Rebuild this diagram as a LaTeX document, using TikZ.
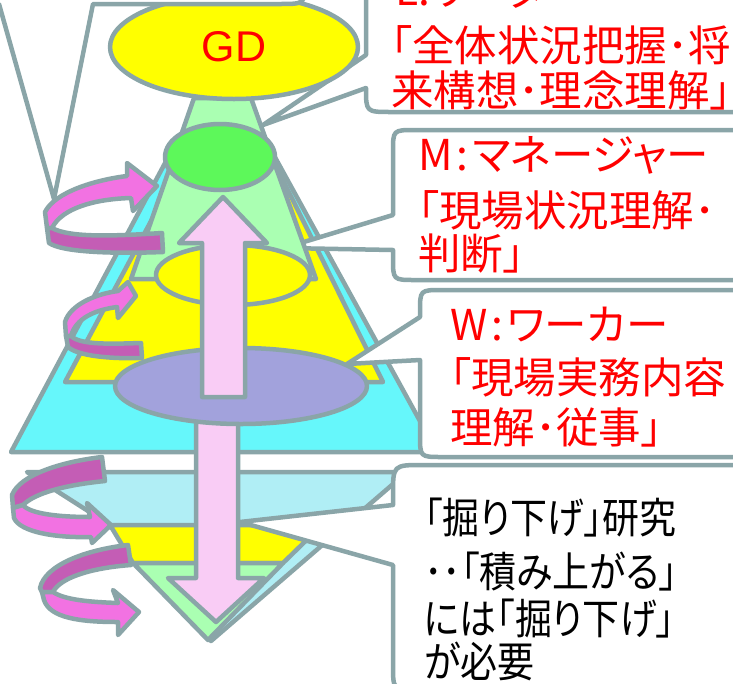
\documentclass[tikz,border=0pt]{standalone}
\usepackage{fontspec}
\newfontfamily\jp[RawFeature=+palt]{Noto Sans CJK JP}
\newfontfamily\jpb[RawFeature=+palt, FakeStretch=0.88]{Noto Sans CJK JP}
\newfontfamily\arialf{Liberation Sans}
\definecolor{gline}{RGB}{138,165,168}
\definecolor{cyanf}{RGB}{102,247,251}
\definecolor{lcyan}{RGB}{176,238,245}
\definecolor{yel}{RGB}{255,255,0}
\definecolor{lgreen}{RGB}{170,255,178}
\definecolor{bgreen}{RGB}{93,248,90}
\definecolor{purp}{RGB}{162,162,220}
\definecolor{lpink}{RGB}{249,204,245}
\definecolor{spk}{RGB}{242,114,226}
\definecolor{dmg}{RGB}{196,93,181}
\tikzset{
  shp/.style={draw=gline, line width=4.5pt, line join=round},
  callout/.style={shp, fill=white},
  redtxt/.style={text=red, font=\jp\fontsize{42.5}{42.5}\selectfont, inner sep=0pt, anchor=base west},
  blktxt/.style={text=black, font=\jpb\fontsize{42}{42}\selectfont, inner sep=0pt, anchor=base west},
}
\begin{document}
\begin{tikzpicture}[x=1pt,y=-1pt]
\useasboundingbox (0,0) rectangle (733,683);
\clip (0,0) rectangle (733,683);
\fill[white] (0,0) rectangle (733,683);

% callout behind the pyramid
\draw[callout] (760,-60) -- (366,-60) -- (366,55) -- (263,125) -- (366,88) .. controls (366,112) .. (391,112) -- (760,112) -- cycle;

% upright pyramid: cyan and yellow
\draw[shp, fill=cyanf] (172,150) -- (271,150) -- (437,452) -- (11,452) -- cycle;
\draw[shp, fill=yel] (189,150) -- (268,150) -- (383,382) -- (65,382) -- cycle;

% M and W callouts
\draw[callout] (760,130) -- (415,130) .. controls (393,130) .. (393,152) -- (393,215) -- (284,248) -- (393,250) -- (393,258) .. controls (393,280) .. (415,280) -- (760,280) -- cycle;
\draw[callout] (760,290) -- (442,290) .. controls (420,290) .. (420,312) -- (420,317) -- (347,364) -- (420,360) -- (420,435) .. controls (420,457) .. (442,457) -- (760,457) -- cycle;

% green trapezoid
\draw[shp, fill=lgreen] (194,98) -- (251,98) -- (316,279) -- (131,279) -- cycle;

% inverted pyramid
\draw[shp, fill=lcyan] (27,472) -- (407,472) -- (211,641) -- (150,563) -- (110,525) -- cycle;
\draw[shp, fill=yel] (110,525) -- (322,525) -- (283,563) -- (133,563) -- cycle;
\draw[shp, fill=lgreen] (133,563) -- (283,563) -- (208,640) -- cycle;

% bottom callout
\draw[callout] (760,465) -- (423,465) .. controls (393,465) .. (393,495) -- (393,505) -- (240,522) -- (393,565) -- (393,665) .. controls (393,690) .. (418,690) -- (760,690) -- cycle;

% down arrow
\draw[shp, fill=lpink] (196,380) -- (196,578) -- (168,578) -- (216,622) -- (264,578) -- (238,578) -- (238,380) -- cycle;

% ellipses
\draw[shp, fill=yel] (234,47) ellipse [x radius=124, y radius=52];
\node[text=red, font=\arialf\fontsize{43}{43}\selectfont, inner sep=0pt] (gd) at (234,47) {GD};
\draw[shp, fill=bgreen] (220,157) ellipse [x radius=55, y radius=33];
\draw[shp, fill=yel] (233,275) ellipse [x radius=77, y radius=30];
\draw[shp, fill=purp] (241,386) ellipse [x radius=126, y radius=38];

% top-left callout (cut off)
\draw[callout] (-60,-60) -- (-60,4) -- (-1,4) -- (54,199) -- (93,4) -- (280,4) .. controls (305,4) .. (305,-20) -- (305,-60) -- cycle;

% up arrow
\draw[shp, fill=lpink] (202,397) -- (202,243) -- (179,243) -- (223,197) -- (267,243) -- (245,243) -- (245,397) -- cycle;

% spiral 1
\draw[shp, fill=spk] (45,212) .. controls (55,192) and (95,180) .. (127,176) -- (127,163) -- (157,186) -- (133,211) -- (131,198) .. controls (95,199) and (62,208) .. (52,228) -- (47,228) -- cycle;
\draw[shp, fill=dmg] (47,228) -- (52,228) .. controls (70,238) and (115,236) .. (162,233) -- (163,252) .. controls (110,254) and (62,252) .. (49,243) -- cycle;
% spiral 2
\draw[shp, fill=spk] (65,322) .. controls (70,305) and (95,294) .. (118,291) -- (128,282) -- (136,296) -- (118,318) -- (117,307) .. controls (95,310) and (76,318) .. (71,336) -- (66,336) -- cycle;
\draw[shp, fill=dmg] (66,336) -- (71,336) .. controls (80,345) and (110,344) .. (141,343) -- (142,358) .. controls (110,359) and (78,356) .. (68,347) -- cycle;
% spiral 3
\draw[shp, fill=dmg] (12,495) .. controls (20,475) and (60,462) .. (102,457) -- (105,481) .. controls (65,485) and (35,493) .. (23,505) -- (13,508) -- cycle;
\draw[shp, fill=spk] (13,508) -- (23,505) .. controls (30,514) and (60,517) .. (90,517) -- (87,503) -- (111,525) -- (92,543) -- (91,537) .. controls (55,538) and (20,532) .. (14,518) -- cycle;
% spiral 4
\draw[shp, fill=dmg] (40,588) .. controls (45,565) and (85,550) .. (128,545) -- (131,565) .. controls (90,568) and (60,578) .. (53,592) -- (42,592) -- cycle;
\draw[shp, fill=spk] (42,592) -- (53,592) .. controls (65,600) and (90,602) .. (118,603) -- (113,590) -- (139,612) -- (118,635) -- (118,622) .. controls (80,622) and (50,618) .. (44,600) -- cycle;

% texts
\node[redtxt] (l0) at (395,5) {L:リーダー};
\node[redtxt] (l1) at (391,61) {「全体状況把握･将};
\node[redtxt] (l2) at (391,106) {来構想･理念理解」};
\node[redtxt] (m1) at (418,170) {M\kern4pt:\kern4pt マネージャー};
\node[redtxt] (m2) at (418,226) {「現場状況理解･};
\node[redtxt] (m3) at (418,269) {判断」};
\node[redtxt] (w1) at (450,340) {W\kern4pt:\kern4pt ワーカー};
\node[redtxt] (w2) at (450,393) {「現場実務内容};
\node[redtxt] (w3) at (450,443) {理解･従事」};
\node[blktxt] (b1) at (424,533) {「掘り下げ」研究};
\node[blktxt] (b2) at (424,587) {･･「積み上がる」};
\node[blktxt] (b3) at (424,634) {には「掘り下げ」};
\node[blktxt] (b4) at (424,677) {が必要};
\end{tikzpicture}
\end{document}
